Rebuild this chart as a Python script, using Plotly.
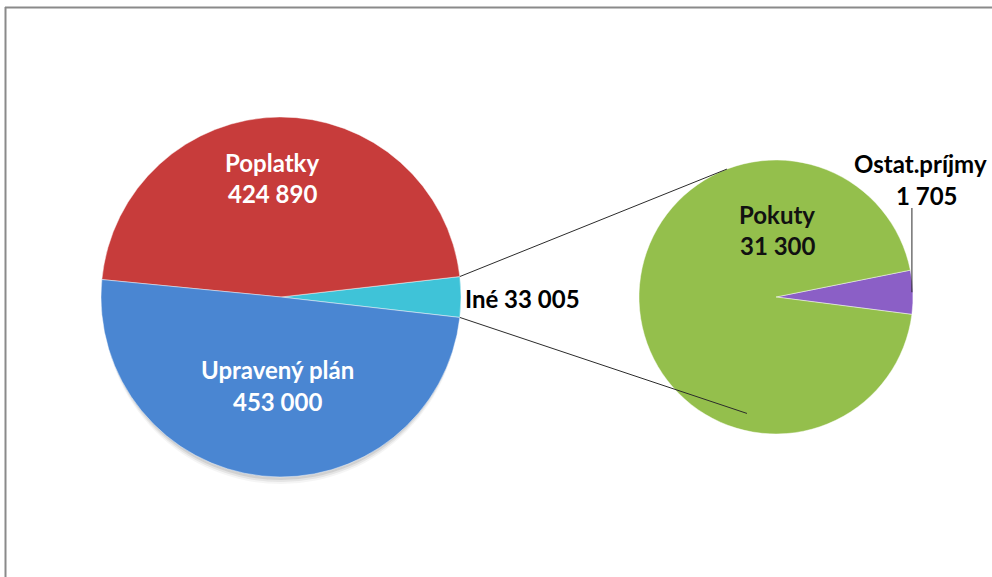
import math
import plotly.graph_objects as go

# Data (hlavný koláč a rozpad položky "Iné")
main_labels = ["Iné", "Poplatky", "Upravený plán"]
main_values = [33005, 424890, 453000]
sub_labels = ["Ostat.príjmy", "Pokuty"]
sub_values = [1705, 31300]

COLOR_INE = "#3fc3d8"
COLOR_POPLATKY = "#c73c3b"
COLOR_PLAN = "#4a86d2"
COLOR_OSTAT = "#8b5fc6"
COLOR_POKUTY = "#94bf4c"

W, H = 992, 577
FONT = "Lato"


def fmt(v):
    return f"{v:,}".replace(",", " ")


# screen pixel -> paper coordinates
def px(x):
    return x / W


def py(y):
    return 1 - y / H


# pie geometry in screen pixels (center x, center y from top, radius)
c1x, c1y, r1 = 281, 297, 180
c2x, c2y, r2 = 776, 297, 137

ine_half = 180 * main_values[0] / sum(main_values)
ost_half = 180 * sub_values[0] / sum(sub_values)

fig = go.Figure()
fig.add_trace(go.Pie(
    labels=main_labels,
    values=main_values,
    sort=False,
    direction="counterclockwise",
    rotation=90 - ine_half,
    marker=dict(colors=[COLOR_INE, COLOR_POPLATKY, COLOR_PLAN],
                line=dict(color="rgba(255,255,255,0.45)", width=1)),
    textinfo="none",
    hoverinfo="label+value",
    domain=dict(x=[px(c1x - r1), px(c1x + r1)], y=[py(c1y + r1), py(c1y - r1)]),
    showlegend=False,
))
fig.add_trace(go.Pie(
    labels=sub_labels,
    values=sub_values,
    sort=False,
    direction="counterclockwise",
    rotation=90 - ost_half - 2,
    marker=dict(colors=[COLOR_OSTAT, COLOR_POKUTY],
                line=dict(color="rgba(255,255,255,0.45)", width=1)),
    textinfo="none",
    hoverinfo="label+value",
    domain=dict(x=[px(c2x - r2), px(c2x + r2)], y=[py(c2y + r2), py(c2y - r2)]),
    showlegend=False,
))


def on_circle(cx, cy, r, deg):
    a = math.radians(deg)
    return cx + r * math.cos(a), cy - r * math.sin(a)


shapes = []
# soft shadow under the main pie
for dy, alpha in [(7, 0.06), (5, 0.10), (3, 0.14)]:
    shapes.append(dict(type="circle", xref="paper", yref="paper", layer="below",
                       x0=px(c1x - r1 + 2), x1=px(c1x + r1 - 2),
                       y0=py(c1y + r1 + dy), y1=py(c1y - r1 + dy),
                       fillcolor=f"rgba(90,90,90,{alpha})", line=dict(width=0)))
# connector lines between the pies: (angle on main, angle and radius on secondary)
for a_main, a_sub, r_sub in [(ine_half, 111, r2), (-ine_half, -104, 120)]:
    x0, y0 = on_circle(c1x, c1y, r1, a_main)
    x1, y1 = on_circle(c2x, c2y, r_sub, a_sub)
    shapes.append(dict(type="line", xref="paper", yref="paper",
                       x0=px(x0), y0=py(y0), x1=px(x1), y1=py(y1),
                       line=dict(color="#2b2b2b", width=1)))
# leader line for Ostat.príjmy
lx, ly = on_circle(c2x, c2y, r2, 2)
shapes.append(dict(type="line", xref="paper", yref="paper",
                   x0=px(lx - 1), y0=py(208), x1=px(lx - 1), y1=py(ly),
                   line=dict(color="#2b2b2b", width=1)))
# chart frame
shapes.append(dict(type="line", xref="paper", yref="paper",
                   x0=px(5), y0=py(7.5), x1=1, y1=py(7.5),
                   line=dict(color="#8a8a8a", width=2)))
shapes.append(dict(type="line", xref="paper", yref="paper",
                   x0=px(5.5), y0=py(7), x1=px(5.5), y1=0,
                   line=dict(color="#8a8a8a", width=2)))


def ann(text, x, y, color, xanchor="center"):
    return dict(text=text, x=px(x), y=py(y), xref="paper", yref="paper",
                xanchor=xanchor, yanchor="middle", showarrow=False,
                font=dict(family=FONT, size=24, color=color, weight="bold"))


annotations = [
    ann(main_labels[1], 272, 162, "white"),
    ann(fmt(main_values[1]), 272, 193, "white"),
    ann(main_labels[2], 277, 369, "white"),
    ann(fmt(main_values[2]), 277, 401, "white"),
    ann(f"{main_labels[0]} {fmt(main_values[0])}", 463, 298, "black", "left"),
    ann(sub_labels[1], 777, 214, "#111111"),
    ann(fmt(sub_values[1]), 778, 246, "#111111"),
    ann(sub_labels[0], 920, 163, "black"),
    ann(fmt(sub_values[0]), 927, 195, "black"),
]

fig.update_layout(
    width=W, height=H,
    margin=dict(t=0, b=0, l=0, r=0),
    paper_bgcolor="white",
    plot_bgcolor="white",
    shapes=shapes,
    annotations=annotations,
)

# drop the default page margin so the figure fills the window exactly
fig.write_html("out.html", config={"displayModeBar": False},
               post_script="document.body.style.margin = '0';")
